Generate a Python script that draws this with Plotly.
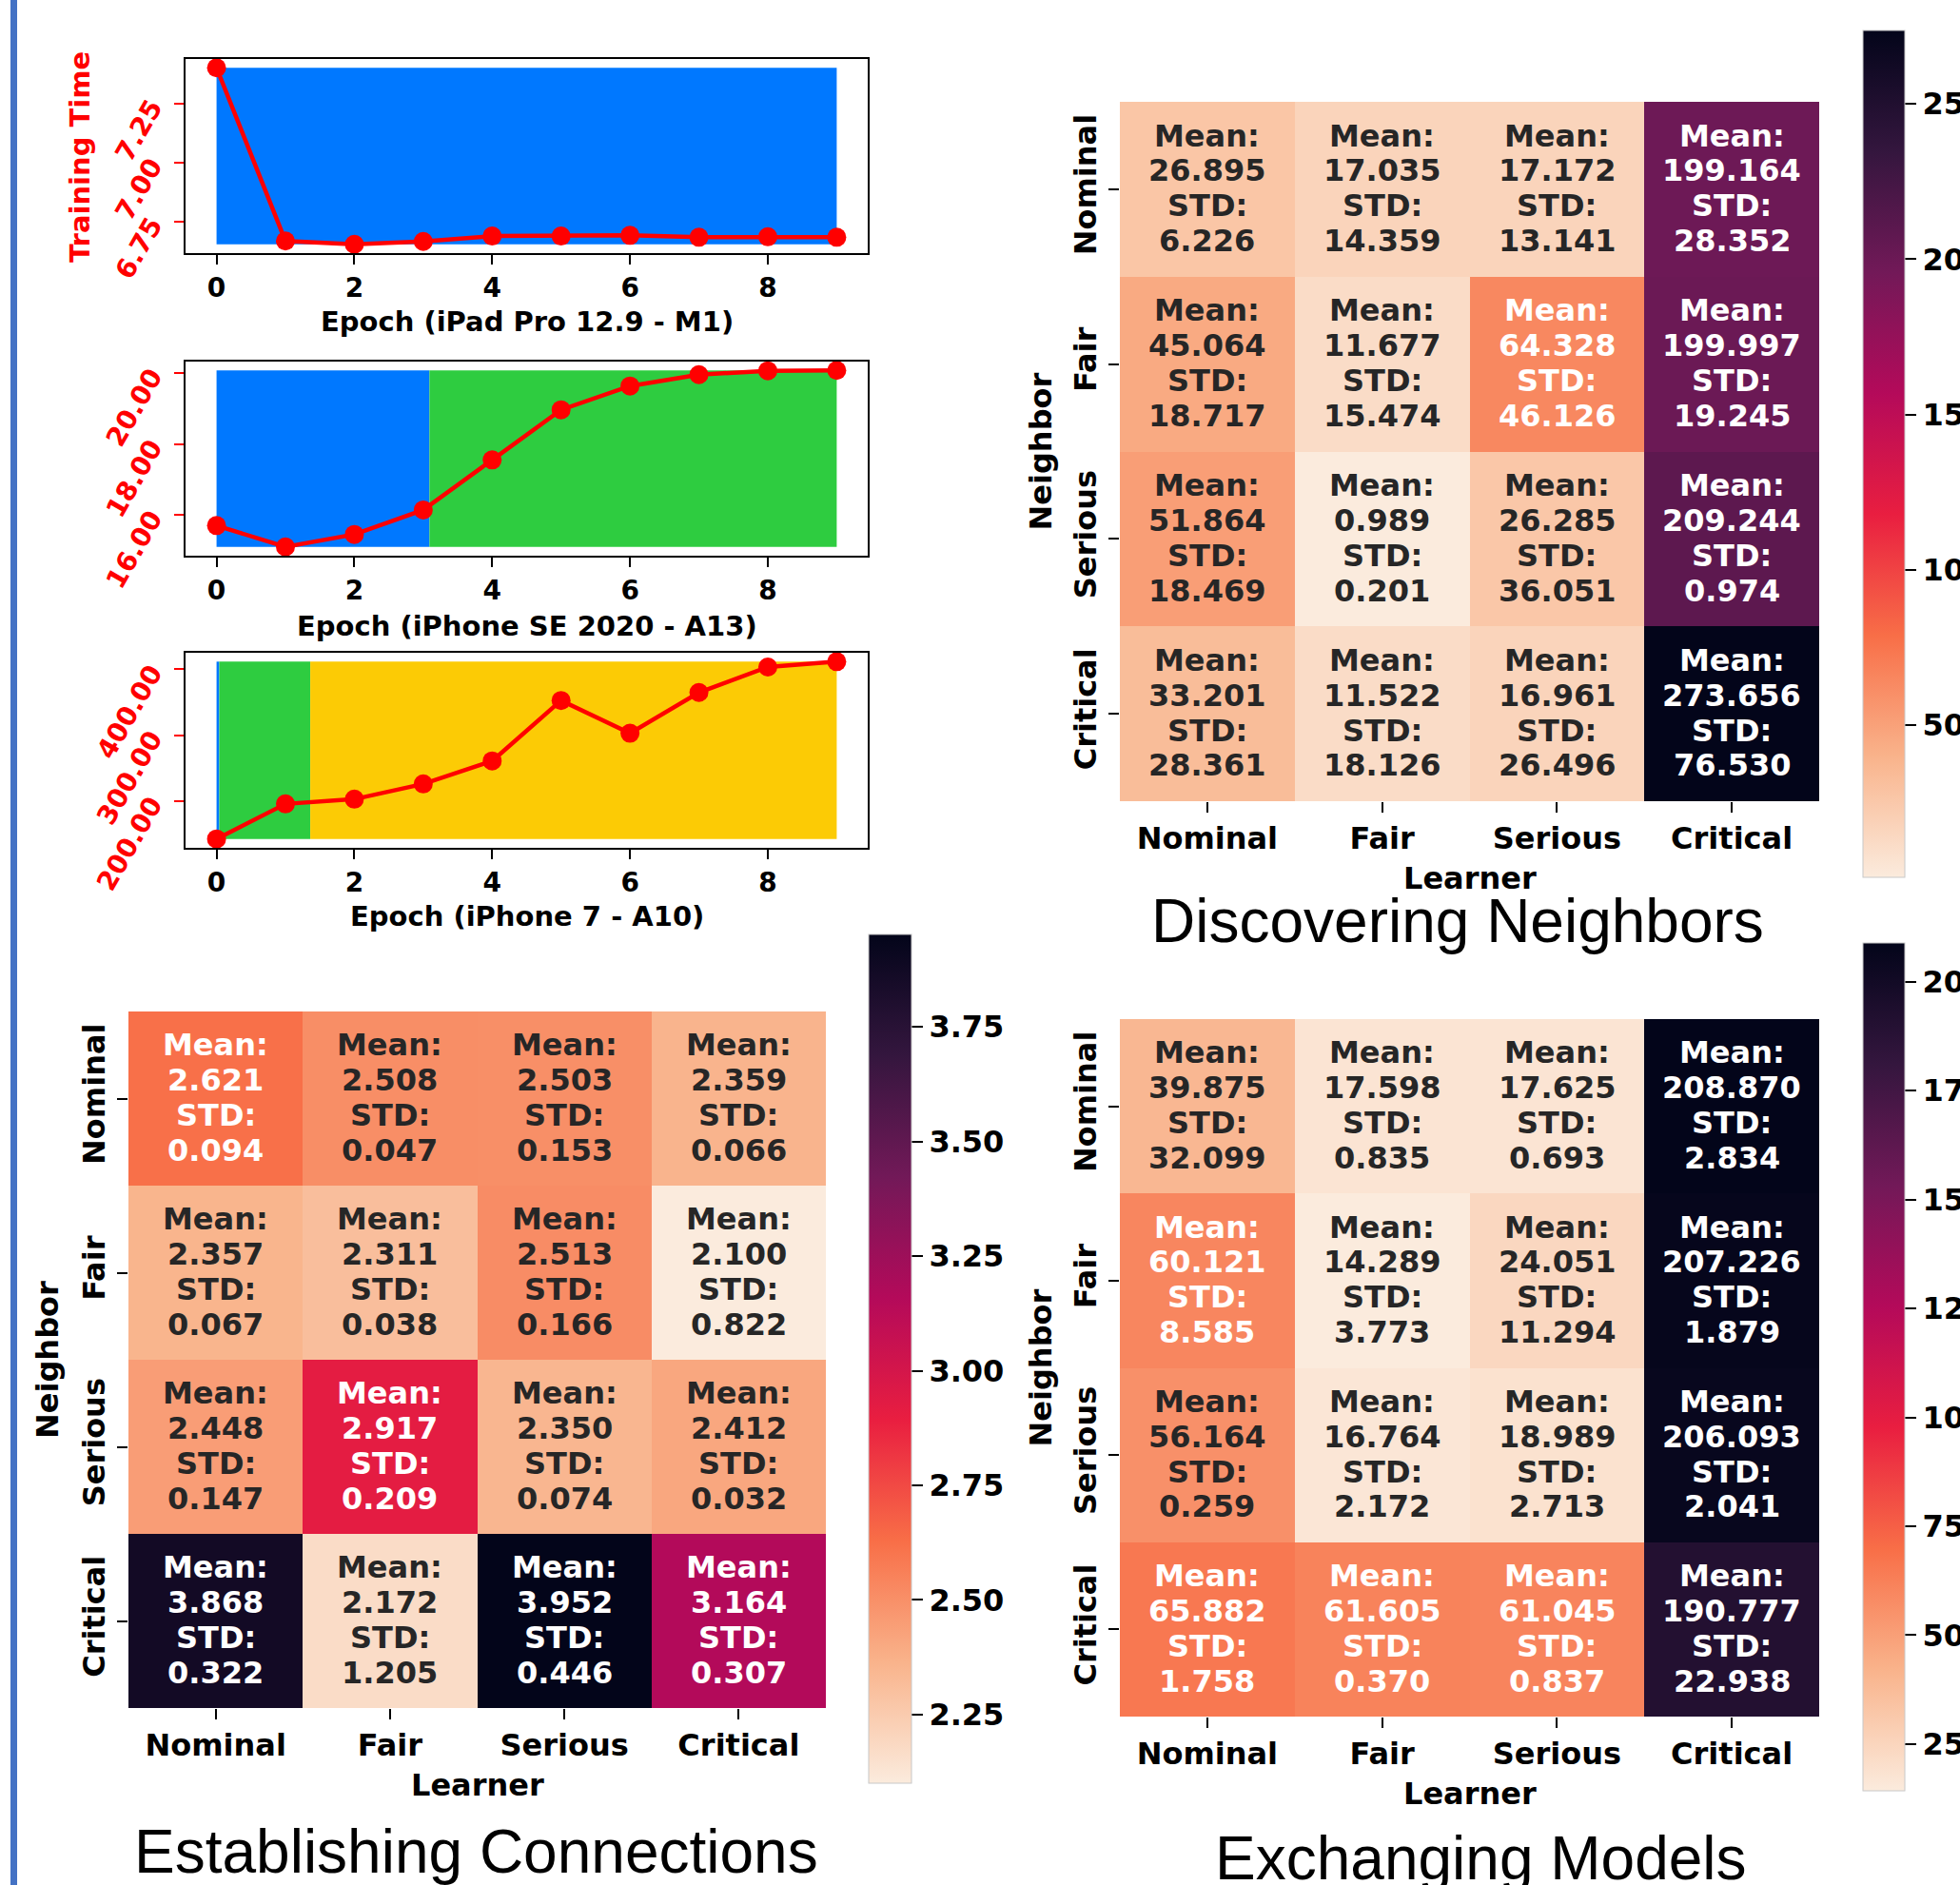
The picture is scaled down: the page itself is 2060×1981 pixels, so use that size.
import plotly.graph_objects as go

W, H = 2060, 1981
FONT = "DejaVu Sans"
TITLE_FONT = "Liberation Sans"

# ---------------- data ----------------
epochs = [0, 1, 2, 3, 4, 5, 6, 7, 8, 9]
ipad_time = [7.403, 6.667, 6.653, 6.665, 6.688, 6.688, 6.691, 6.683, 6.685, 6.683]
se_time = [15.70, 15.10, 15.45, 16.14, 17.55, 18.96, 19.63, 19.95, 20.06, 20.07]
i7_time = [142.5, 195.7, 202.9, 226.0, 260.9, 352.6, 302.9, 364.7, 403.4, 411.6]

ipad_phase_edges = [0.0, 9.0]
se_phase_edges = [0.0, 3.09, 9.0]
i7_phase_edges = [0.0, 0.04, 1.36, 9.0]

levels = ["Nominal", "Fair", "Serious", "Critical"]

disc_mean = [[26.895, 17.035, 17.172, 199.164],
             [45.064, 11.677, 64.328, 199.997],
             [51.864, 0.989, 26.285, 209.244],
             [33.201, 11.522, 16.961, 273.656]]
disc_std = [[6.226, 14.359, 13.141, 28.352],
            [18.717, 15.474, 46.126, 19.245],
            [18.469, 0.201, 36.051, 0.974],
            [28.361, 18.126, 26.496, 76.530]]

est_mean = [[2.621, 2.508, 2.503, 2.359],
            [2.357, 2.311, 2.513, 2.100],
            [2.448, 2.917, 2.350, 2.412],
            [3.868, 2.172, 3.952, 3.164]]
est_std = [[0.094, 0.047, 0.153, 0.066],
           [0.067, 0.038, 0.166, 0.822],
           [0.147, 0.209, 0.074, 0.032],
           [0.322, 1.205, 0.446, 0.307]]

exch_mean = [[39.875, 17.598, 17.625, 208.870],
             [60.121, 14.289, 24.051, 207.226],
             [56.164, 16.764, 18.989, 206.093],
             [65.882, 61.605, 61.045, 190.777]]
exch_std = [[32.099, 0.835, 0.693, 2.834],
            [8.585, 3.773, 11.294, 1.879],
            [0.259, 2.172, 2.713, 2.041],
            [1.758, 0.370, 0.837, 22.938]]

disc_ticks = [50, 100, 150, 200, 250]
est_ticks = [2.25, 2.50, 2.75, 3.00, 3.25, 3.50, 3.75]
exch_ticks = [25, 50, 75, 100, 125, 150, 175, 200]

# ---------------- styles ----------------
PHASE_COLORS = ["#0078FF", "#2ECC40", "#FCCB05"]
ROCKET_R = [[0.0, "#FBEBDD"], [1 / 7, "#F9B38B"], [2 / 7, "#F86E47"],
            [3 / 7, "#E91E40"], [4 / 7, "#B40A5A"], [5 / 7, "#721958"],
            [6 / 7, "#34163E"], [1.0, "#03051A"]]


def fx(p):
    return p / W


def fy(p):
    return 1 - p / H


def bold(size, color="black", family=FONT):
    return dict(family=family, size=size, color=color, weight="bold")


fig = go.Figure()
layout = {}
annotations = []

# ---------------- line panels ----------------
line_panels = [
    (1, ipad_time, ipad_phase_edges, 62, 266, "Epoch (iPad Pro 12.9 - M1)", 0.25, 338),
    (2, se_time, se_phase_edges, 380, 584, "Epoch (iPhone SE 2020 - A13)", 2, 658),
    (3, i7_time, i7_phase_edges, 686, 891, "Epoch (iPhone 7 - A10)", 100, 963),
]
for idx, ys, edges, top, bot, title, dtick, title_y in line_panels:
    xa = "x" if idx == 1 else f"x{idx}"
    ya = "y" if idx == 1 else f"y{idx}"
    xk = "xaxis" if idx == 1 else f"xaxis{idx}"
    yk = "yaxis" if idx == 1 else f"yaxis{idx}"
    lo, hi = min(ys), max(ys)
    for k in range(len(edges) - 1):
        x0, x1 = edges[k], edges[k + 1]
        fig.add_trace(go.Scatter(x=[x0, x1, x1, x0, x0], y=[lo, lo, hi, hi, lo],
                                 mode="lines", fill="toself", fillcolor=PHASE_COLORS[k],
                                 line=dict(width=0, color=PHASE_COLORS[k]),
                                 hoverinfo="skip", showlegend=False, xaxis=xa, yaxis=ya))
    fig.add_trace(go.Scatter(x=epochs, y=ys, mode="lines+markers",
                             line=dict(color="red", width=4.5),
                             marker=dict(color="red", size=20),
                             cliponaxis=False, showlegend=False, xaxis=xa, yaxis=ya))
    span = hi - lo
    xspan = epochs[-1] - epochs[0]
    layout[xk] = dict(domain=[fx(195), fx(912)],
                      range=[epochs[0] - 0.05 * xspan, epochs[-1] + 0.05 * xspan],
                      anchor=ya, tick0=0, dtick=2, ticks="outside", ticklen=10,
                      tickwidth=2, tickcolor="black", showline=True, linecolor="black",
                      linewidth=2, mirror=True, showgrid=False, zeroline=False,
                      tickfont=bold(28))
    layout[yk] = dict(domain=[fy(bot), fy(top)],
                      range=[lo - 0.05 * span, hi + 0.05 * span],
                      anchor=xa, tick0=0, dtick=dtick, tickformat=".2f", tickangle=-60,
                      ticks="outside", ticklen=10, tickwidth=2, tickcolor="red",
                      ticklabelstandoff=18,
                      tickfont=bold(28, "red"), showline=True, linecolor="black",
                      linewidth=2, mirror=True, showgrid=False, zeroline=False)
    annotations.append(dict(text=title, x=fx(553.5), y=fy(title_y), xref="paper",
                            yref="paper", showarrow=False, xanchor="center",
                            yanchor="middle", font=bold(29)))

annotations.append(dict(text="Training Time", x=fx(84), y=fy(165), xref="paper",
                        yref="paper", showarrow=False, textangle=-90,
                        xanchor="center", yanchor="middle", font=bold(29, "red")))

# ---------------- heatmaps ----------------
heat_panels = [
    (4, disc_mean, disc_std, (1177, 1912, 107, 842), (1958, 32, 922, 44), disc_ticks, "",
     "Discovering Neighbors", (1532, 968), 923, 1093),
    (5, est_mean, est_std, (135, 868, 1063, 1795), (913, 982, 1874, 45), est_ticks, ".2f",
     "Establishing Connections", (500, 1946), 1876, 50),
    (6, exch_mean, exch_std, (1177, 1912, 1071, 1804), (1958, 991, 1882, 44), exch_ticks, "",
     "Exchanging Models", (1556, 1953), 1885, 1093),
]
for (idx, mean, std, (l, r, t, b), (cbx, cbt, cbb, cbw), cticks, cfmt,
     title, (tx, ty), learner_y, neighbor_x) in heat_panels:
    xa, ya = f"x{idx}", f"y{idx}"
    vmin = min(min(row) for row in mean)
    vmax = max(max(row) for row in mean)
    fig.add_trace(go.Heatmap(
        z=mean, x=levels, y=levels, xaxis=xa, yaxis=ya, zmin=vmin, zmax=vmax,
        colorscale=ROCKET_R, hoverinfo="skip",
        colorbar=dict(x=fx(cbx), xanchor="left", xref="paper", xpad=0, ypad=0,
                      y=fy((cbt + cbb) / 2), yanchor="middle", yref="paper",
                      len=cbb - cbt, lenmode="pixels", thickness=cbw,
                      thicknessmode="pixels", outlinewidth=1, outlinecolor="#c8c8c8",
                      tickvals=cticks, tickformat=cfmt, ticks="outside", ticklen=12,
                      tickwidth=2, tickcolor="black", tickfont=bold(32))))
    layout[f"xaxis{idx}"] = dict(domain=[fx(l), fx(r)], anchor=ya, range=[-0.5, 3.5],
                                 type="category", categoryorder="array",
                                 categoryarray=levels, ticks="outside", ticklen=11,
                                 tickwidth=2, tickcolor="black", showline=False,
                                 showgrid=False, zeroline=False, tickfont=bold(32))
    layout[f"yaxis{idx}"] = dict(domain=[fy(b), fy(t)], anchor=xa, range=[3.5, -0.5],
                                 type="category", categoryorder="array",
                                 categoryarray=levels, ticks="outside", ticklen=11,
                                 tickwidth=2, tickcolor="black", tickangle=-90,
                                 showline=False, showgrid=False, zeroline=False,
                                 tickfont=bold(32))
    for i, row_name in enumerate(levels):
        for j, col_name in enumerate(levels):
            v = mean[i][j]
            norm = (v - vmin) / (vmax - vmin)
            col = "white" if norm > 0.228 else "#262626"
            lines = ["Mean:", f"{v:.3f}", "STD:", f"{std[i][j]:.3f}"]
            for txt, shift in zip(lines, [56.2, 19.4, -17.4, -54.2]):
                annotations.append(dict(text=txt, x=col_name, y=row_name, xref=xa,
                                        yref=ya, showarrow=False, yshift=shift,
                                        xanchor="center", yanchor="middle",
                                        font=bold(32, col)))
    annotations.append(dict(text="Learner", x=fx((l + r) / 2), y=fy(learner_y),
                            xref="paper", yref="paper", showarrow=False,
                            xanchor="center", yanchor="middle", font=bold(32)))
    annotations.append(dict(text="Neighbor", x=fx(neighbor_x), y=fy((t + b) / 2),
                            xref="paper", yref="paper", showarrow=False, textangle=-90,
                            xanchor="center", yanchor="middle", font=bold(32)))
    annotations.append(dict(text=title, x=fx(tx), y=fy(ty), xref="paper", yref="paper",
                            showarrow=False, xanchor="center", yanchor="middle",
                            font=dict(family=TITLE_FONT, size=64, color="black")))

fig.update_layout(
    width=W, height=H,
    margin=dict(l=0, r=0, t=0, b=0, pad=0, autoexpand=False),
    paper_bgcolor="white", plot_bgcolor="white", showlegend=False,
    annotations=annotations,
    shapes=[dict(type="rect", xref="paper", yref="paper", x0=fx(11), x1=fx(18),
                 y0=0, y1=1, fillcolor="#4472C4", line=dict(width=0), layer="above")],
    **layout,
)

fig.write_html(
    "out.html",
    config={"displayModeBar": False},
    post_script="document.body.style.margin='0';document.body.style.padding='0';"
                "document.documentElement.style.overflow='hidden';",
)
